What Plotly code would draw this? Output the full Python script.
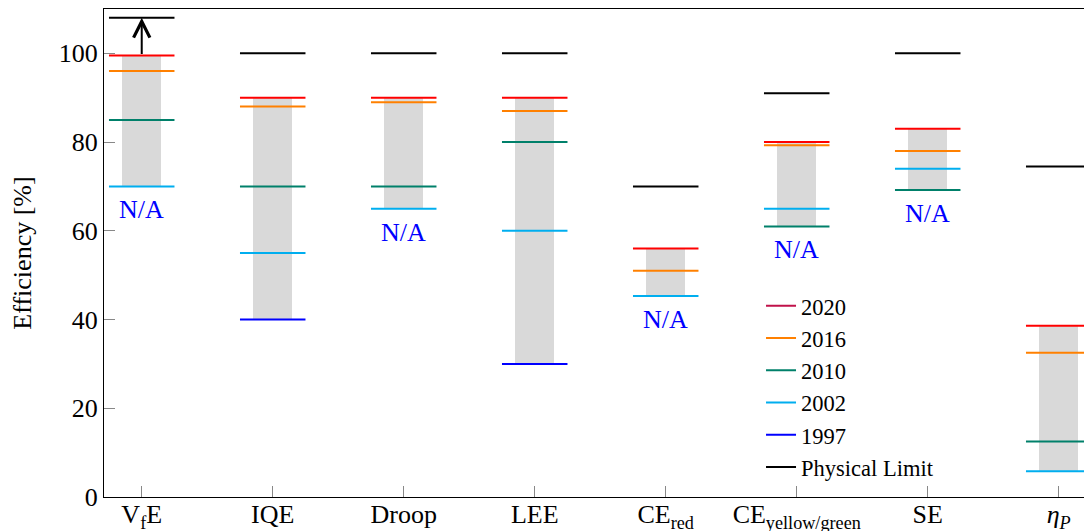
import plotly.graph_objects as go

categories = ["VfE", "IQE", "Droop", "LEE", "CE_red", "CE_yellow/green", "SE", "eta_P"]
tick_labels = ["V<sub>f</sub>E", "IQE", "Droop", "LEE", "CE<sub>red</sub>",
               "CE<sub>yellow/green</sub>", "SE", "<i>η</i><sub><i>P</i></sub>"]

limit = [108, 100, 100, 100, 70, 91, 100, 74.5]
y2020 = [99.5, 90, 90, 90, 56, 80, 83, 38.6]
y2016 = [96, 88, 89, 87, 51, 79.3, 78, 32.5]
y2010 = [85, 70, 70, 80, None, 61, 69.2, 12.5]
y2002 = [70, 55, 65, 60, 45.3, 65, 74, 5.8]
y1997 = [None, 40, None, 30, None, None, None, None]
na_flags = [True, False, True, False, True, True, True, False]

FONT = "Liberation Serif"
FS = 26
HALF = 0.25
BARW = 0.3

idx = list(range(len(categories)))
years = [("2020", y2020, "#ff0000"), ("2016", y2016, "#ff8000"),
         ("2010", y2010, "#00806a"), ("2002", y2002, "#00aeef"),
         ("1997", y1997, "#0000ff")]

fig = go.Figure()

bases, heights = [], []
for i in idx:
    vals = [s[i] for _, s, _ in years if s[i] is not None]
    lo, hi = min(vals), max(vals)
    bases.append(lo)
    heights.append(hi - lo)
fig.add_trace(go.Bar(x=idx, y=heights, base=bases, width=BARW,
                     marker=dict(color="#d9d9d9", line=dict(width=0)),
                     showlegend=False, hoverinfo="skip"))


def seg(values):
    xs, ys = [], []
    for i, v in zip(idx, values):
        if v is None:
            continue
        xs += [i - HALF, i + HALF, None]
        ys += [v, v, None]
    return xs, ys


for rank, (name, vals, col) in reversed(list(enumerate(years))):
    xs, ys = seg(vals)
    fig.add_trace(go.Scatter(x=xs, y=ys, mode="lines", name=name,
                             line=dict(color=col, width=2),
                             showlegend=(name != "2020"), legendrank=rank + 1))
fig.add_trace(go.Scatter(x=[None], y=[None], mode="lines", name="2020",
                         line=dict(color="#c0124a", width=2), legendrank=1))
xs, ys = seg(limit)
fig.add_trace(go.Scatter(x=xs, y=ys, mode="lines", name="Physical Limit",
                         line=dict(color="black", width=2), legendrank=6))

fig.add_annotation(x=idx[0], y=limit[0], ax=idx[0], ay=y2020[0],
                   xref="x", yref="y", axref="x", ayref="y", text="",
                   showarrow=True, arrowhead=5, arrowsize=1.6, arrowwidth=2,
                   arrowcolor="black", standoff=0, startstandoff=0)

for i in idx:
    if na_flags[i]:
        lo = min(s[i] for _, s, _ in years if s[i] is not None)
        fig.add_annotation(x=i, y=lo, text="N/A", showarrow=False,
                           yanchor="top", yshift=-7,
                           font=dict(family=FONT, size=FS, color="#0000ff"))

# page body has an 8px margin: figure is offset by (8, 8)
fig.update_layout(
    width=1084, height=523,
    margin=dict(l=96, r=0, t=1, b=34, autoexpand=False),
    plot_bgcolor="white", paper_bgcolor="white",
    font=dict(family=FONT, size=FS, color="black"),
    bargap=0,
    legend=dict(x=0.665, y=0.435, xanchor="left", yanchor="top",
                bgcolor="rgba(0,0,0,0)", borderwidth=0,
                font=dict(family=FONT, size=22.5), traceorder="normal"),
)
fig.update_xaxes(range=[-0.288, 7.254], tickmode="array", tickvals=idx,
                 ticktext=tick_labels, ticks="inside", ticklen=11,
                 tickcolor="#888888", tickwidth=1.2, automargin=False,
                 ticklabelstandoff=-6,
                 showline=True, linecolor="black", linewidth=1.3,
                 mirror=True, showgrid=False, zeroline=False)
fig.update_yaxes(range=[0, 110], tickvals=[0, 20, 40, 60, 80, 100],
                 ticks="inside", ticklen=11, tickcolor="#888888", tickwidth=1.2,
                 showline=True, linecolor="black", linewidth=1.3, automargin=False,
                 mirror=False, showgrid=False, zeroline=False,
                 title=dict(text="Efficiency [%]", standoff=25,
                            font=dict(family=FONT, size=FS)))

fig.write_html("out.html")
